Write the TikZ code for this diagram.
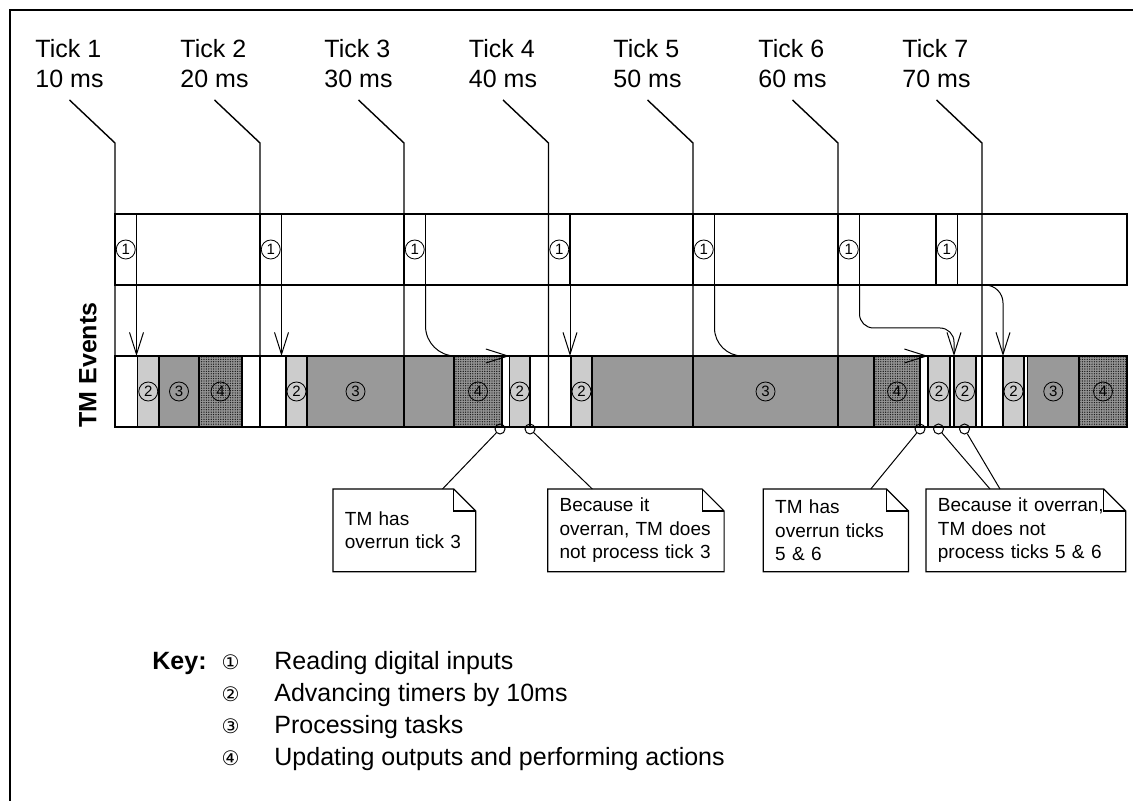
\documentclass[tikz,border=0pt]{standalone}
\usepackage{fontspec}
\setmainfont{Liberation Sans}
\newfontfamily\symfont{DejaVu Sans}
\usepackage{tikz}
\usetikzlibrary{arrows.meta,patterns.meta}
\tikzstyle{slot}=[draw, line width=0.9pt, minimum height=35.5pt, inner sep=0pt,
  outer sep=0pt, anchor=west]
\tikzstyle{idle}=[fill=white]
\tikzstyle{timer}=[fill=black!20]
\tikzstyle{task}=[fill=black!40]
\tikzstyle{output}=[preaction={fill=black!42},
  pattern={Dots[distance=1.2pt,radius=0.35pt]}, pattern color=black!90]
\tikzstyle{readbox}=[draw, line width=0.9pt, anchor=north west, minimum width=10.75pt,
  minimum height=35.5pt, inner sep=0pt, outer sep=0pt]
\tikzstyle{num}=[circle, draw, line width=0.4pt, minimum size=9.5pt, inner sep=0pt,
  font=\fontsize{7.5}{8}\selectfont]
\tikzstyle{ticktext}=[anchor=south, align=left, inner xsep=0pt, inner ysep=6pt,
  font=\fontsize{12.5}{15}\selectfont]
\tikzstyle{tickline}=[draw, line width=0.7pt]
\tikzstyle{flow}=[draw, line width=0.5pt, -{Straight Barb[length=11pt,width=7pt]}]
\tikzstyle{ring}=[circle, draw, line width=0.5pt, minimum size=5pt, inner sep=0pt]
\tikzstyle{note}=[anchor=north west, inner xsep=5.75pt, inner ysep=0pt,
  minimum height=41pt, align=left, font=\fontsize{9.5}{11.75}\selectfont]
\tikzstyle{keytext}=[anchor=base west, inner sep=0pt, font=\fontsize{12.5}{15}\selectfont]
\tikzstyle{keynum}=[anchor=base, inner sep=0pt, font=\symfont\fontsize{10}{12}\selectfont]
\newcommand{\timeslot}[3]{node (#1)[slot,#2,minimum width=#3*0.5pt]{}}
\newcommand{\callout}[3]{node (#1)[note,text width=#2]{#3}}
\newcommand{\dogear}[1]{%
  \draw[line width=0.6pt] (#1.north west) -- ([xshift=-11pt]#1.north east)
    -- ([yshift=-11pt]#1.north east) -- (#1.south east) -- (#1.south west) -- cycle;
  \draw[line width=0.6pt] ([xshift=-11pt]#1.north east) |- ([yshift=-11pt]#1.north east);}
\begin{document}
\begin{tikzpicture}[x=0.5pt,y=-0.5pt]
  \useasboundingbox (0,0) rectangle (1133,801);
  \draw[line width=1pt] (10,801) -- (10,10) -- (1133,10);

  % Tick positions
  \coordinate (a1) at (115,143);
  \coordinate (a2) at (260,143);
  \coordinate (a3) at (404,143);
  \coordinate (a4) at (548.5,143);
  \coordinate (a5) at (693,143);
  \coordinate (a6) at (838,143);
  \coordinate (a7) at (982,143);

  \path (a1)+(-45.5,-43) node (t1)[ticktext]{Tick 1\\10 ms};
  \path (a2)+(-45.5,-43) node (t2)[ticktext]{Tick 2\\20 ms};
  \path (a3)+(-45.5,-43) node (t3)[ticktext]{Tick 3\\30 ms};
  \path (a4)+(-45.5,-43) node (t4)[ticktext]{Tick 4\\40 ms};
  \path (a5)+(-45.5,-43) node (t5)[ticktext]{Tick 5\\50 ms};
  \path (a6)+(-45.5,-43) node (t6)[ticktext]{Tick 6\\60 ms};
  \path (a7)+(-45.5,-43) node (t7)[ticktext]{Tick 7\\70 ms};

  % Upper row: reading inputs
  \path (115,214) node (up)[readbox, minimum width=505.85pt]{};
  \path (a1 |- up.north) node (r1)[readbox]{};
  \path (a2 |- up.north) node (r2)[readbox]{};
  \path (a3 |- up.north) node (r3)[readbox]{};
  \path (a4 |- up.north) node (r4)[readbox]{};
  \path (a5 |- up.north) node (r5)[readbox]{};
  \path (a6 |- up.north) node (r6)[readbox]{};
  \path (936,214) node (r8)[readbox]{};

  % Lower row: TM events
  \path (115,391.5) \timeslot{s1}{idle}{22.5};
  \path (s1.east) \timeslot{s2}{timer}{21.5};
  \path (s2.east) \timeslot{s3}{task}{40};
  \path (s3.east) \timeslot{s4}{output}{43};
  \path (s4.east) \timeslot{s5}{idle}{18};
  \path (s5.east) \timeslot{s6}{idle}{26};
  \path (s6.east) \timeslot{s7}{timer}{21};
  \path (s7.east) \timeslot{s8}{task}{97};
  \path (s8.east) \timeslot{s9}{task}{50};
  \path (s9.east) \timeslot{s10}{output}{48};
  \path (s10.east) \timeslot{s11}{idle}{7.5};
  \path (s11.east) \timeslot{s12}{timer}{20.5};
  \path (s12.east) \timeslot{s13}{idle}{18.5};
  \path (s13.east) \timeslot{s14}{idle}{22.5};
  \path (s14.east) \timeslot{s15}{timer}{21};
  \path (s15.east) \timeslot{s16}{task}{101};
  \path (s16.east) \timeslot{s17}{task}{145};
  \path (s17.east) \timeslot{s18}{task}{36};
  \path (s18.east) \timeslot{s19}{output}{46};
  \path (s19.east) \timeslot{s20}{idle}{8};
  \path (s20.east) \timeslot{s21}{timer}{22};
  \path (s21.east) \timeslot{s22}{idle}{4};
  \path (s22.east) \timeslot{s23}{timer}{22};
  \path (s23.east) \timeslot{s24}{idle}{6};
  \path (s24.east) \timeslot{s25}{idle}{21};
  \path (s25.east) \timeslot{s26}{timer}{21};
  \path (s26.east) \timeslot{s27}{idle}{3.5};
  \path (s27.east) \timeslot{s28}{task}{51.5};
  \path (s28.east) \timeslot{s29}{output}{48};

  % Tick lines
  \path[tickline] (t1.south) -- (a1) -- (a1 |- s1.south);
  \path[tickline] (t2.south) -- (a2) -- (a2 |- s1.south);
  \path[tickline] (t3.south) -- (a3) -- (a3 |- s1.south);
  \path[tickline] (t4.south) -- (a4) -- (a4 |- s1.south);
  \path[tickline] (t5.south) -- (a5) -- (a5 |- s1.south);
  \path[tickline] (t6.south) -- (a6) -- (a6 |- s1.south);
  \path[tickline] (t7.south) -- (a7) -- (a7 |- s1.south);

  % Step numbers
  \node (n1)[num] at (r1) {1};
  \node (n2)[num] at (r2) {1};
  \node (n3)[num] at (r3) {1};
  \node (n4)[num] at (r4) {1};
  \node (n5)[num] at (r5) {1};
  \node (n6)[num] at (r6) {1};
  \node (n8)[num] at (r8) {1};
  \node (m2)[num] at (s2) {2};
  \node (m3)[num] at (s3) {3};
  \node (m4)[num] at (s4) {4};
  \node (m7)[num] at (s7) {2};
  \node (m8)[num] at (s8) {3};
  \node (m10)[num] at (s10) {4};
  \node (m12)[num] at (s12) {2};
  \node (m15)[num] at (s15) {2};
  \node (m17)[num] at (s17) {3};
  \node (m19)[num] at (s19) {4};
  \node (m21)[num] at (s21) {2};
  \node (m23)[num] at (s23) {2};
  \node (m26)[num] at (s26) {2};
  \node (m28)[num] at (s28) {3};
  \node (m29)[num] at (s29) {4};

  % Arrows from inputs to events
  \path[flow] (r1.south east) -- (r1.south east |- s1.north);
  \path[flow] (r2.south east) -- (r2.south east |- s1.north);
  \path[flow, rounded corners=15pt] (r3.south east) |- (s12.north west);
  \path[flow] (r4.south east) -- (r4.south east |- s1.north);
  \path[flow, rounded corners=14pt] (r5.south east) |- (s21.north west);
  \path[flow, rounded corners=7pt] (r6.south east) -- ++(0,43) -| (s23.north west);
  \path[flow, rounded corners=9pt] (a7 |- up.south) -| (s26.north west);

  \node (lbl)[rotate=90, font=\bfseries\fontsize{12.5}{15}\selectfont] at (88,365) {TM Events};

  % Overrun markers and notes
  \node (o1)[ring] at (500,429) {};
  \node (o2)[ring] at (530,429) {};
  \node (o3)[ring] at (920,429) {};
  \node (o4)[ring] at (938.5,429) {};
  \node (o5)[ring] at (964.5,429) {};

  \path (333,489) \callout{c1}{59.5pt}{TM has\\overrun tick 3};
  \path (547.7,489) \callout{c2}{76.3pt}{Because it\\overran, TM does\\not process tick 3};
  \path (763.3,489) \callout{c3}{60.7pt}{TM has\\overrun ticks\\5 \& 6};
  \path (926,489) \callout{c4}{88pt}{Because it overran,\\TM does not\\process ticks 5 \& 6};
  \dogear{c1}
  \dogear{c2}
  \dogear{c3}
  \dogear{c4}

  \draw[line width=0.5pt] (o1) -- ([xshift=-16.65pt]c1.north east);
  \draw[line width=0.5pt] (o2) -- ([xshift=22.3pt]c2.north west);
  \draw[line width=0.5pt] (o3) -- ([xshift=-18.85pt]c3.north east);
  \draw[line width=0.5pt] (o4) -- ([xshift=32pt]c4.north west);
  \draw[line width=0.5pt] (o5) -- ([xshift=37pt]c4.north west);

  % Key
  \path (274,669) node (k1)[keytext]{Reading digital inputs};
  \path (k1.base west)+(0,32) node (k2)[keytext]{Advancing timers by 10ms};
  \path (k2.base west)+(0,32) node (k3)[keytext]{Processing tasks};
  \path (k3.base west)+(0,32) node (k4)[keytext]{Updating outputs and performing actions};
  \path (k1.base west)+(-122,0) node (key)[keytext, font=\bfseries\fontsize{12.5}{15}\selectfont]{Key:};
  \path (k1.base west)+(-43.5,0) node (g1)[keynum]{①};
  \path (k2.base west)+(-43.5,0) node (g2)[keynum]{②};
  \path (k3.base west)+(-43.5,0) node (g3)[keynum]{③};
  \path (k4.base west)+(-43.5,0) node (g4)[keynum]{④};
\end{tikzpicture}
\end{document}
